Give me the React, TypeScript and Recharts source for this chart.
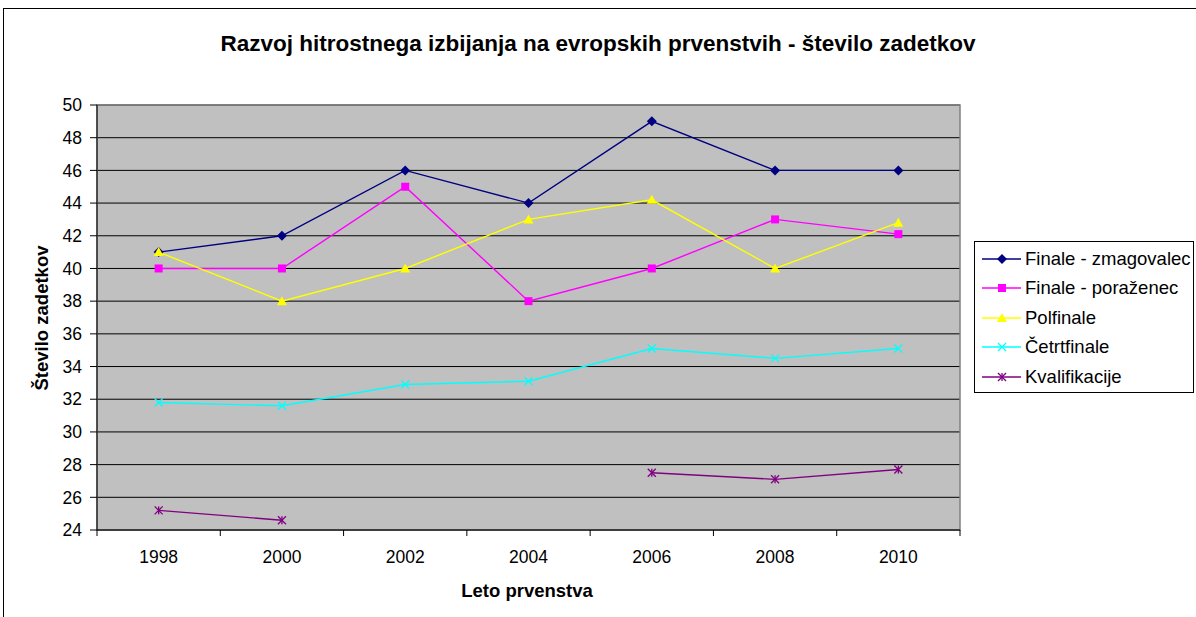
import React from 'react'
import { LineChart, Line, XAxis, YAxis, CartesianGrid, ReferenceArea } from 'recharts'

const years = [1998, 2000, 2002, 2004, 2006, 2008, 2010]
const zmagovalec = [41, 42, 46, 44, 49, 46, 46]
const porazenec = [40, 40, 45, 38, 40, 43, 42.1]
const polfinale = [41, 38, 40, 43, 44.2, 40, 42.8]
const cetrtfinale = [31.8, 31.6, 32.9, 33.1, 35.1, 34.5, 35.1]
const kvalifikacije = [25.2, 24.6, null, null, 27.5, 27.1, 27.7]

const yTicks = [24, 26, 28, 30, 32, 34, 36, 38, 40, 42, 44, 46, 48, 50]
// odd years = tick marks between categories, even years = labels
const xTicks = [1997, 1998, 1999, 2000, 2001, 2002, 2003, 2004, 2005, 2006, 2007, 2008, 2009, 2010, 2011]

const FONT = '"Liberation Sans", Arial, sans-serif'

type Shape = 'diamond' | 'square' | 'triangle' | 'x' | 'star'

const series: { key: string; name: string; color: string; shape: Shape; values: (number | null)[] }[] = [
  { key: 'zmag', name: 'Finale - zmagovalec', color: '#000080', shape: 'diamond', values: zmagovalec },
  { key: 'poraz', name: 'Finale - poraženec', color: '#FF00FF', shape: 'square', values: porazenec },
  { key: 'pol', name: 'Polfinale', color: '#FFFF00', shape: 'triangle', values: polfinale },
  { key: 'cetrt', name: 'Četrtfinale', color: '#00FFFF', shape: 'x', values: cetrtfinale },
  { key: 'kval', name: 'Kvalifikacije', color: '#800080', shape: 'star', values: kvalifikacije },
]

const data = years.map((year, i) => {
  const row: Record<string, number | null> = { year }
  series.forEach((s) => {
    row[s.key] = s.values[i]
  })
  return row
})

function Marker({ cx, cy, shape, color }: { cx: number; cy: number; shape: Shape; color: string }) {
  if (shape === 'diamond') {
    return <polygon points={`${cx},${cy - 5} ${cx + 5},${cy} ${cx},${cy + 5} ${cx - 5},${cy}`} fill={color} />
  }
  if (shape === 'square') {
    return <rect x={cx - 4} y={cy - 4} width={8} height={8} fill={color} />
  }
  if (shape === 'triangle') {
    return <polygon points={`${cx},${cy - 5} ${cx + 5},${cy + 4} ${cx - 5},${cy + 4}`} fill={color} />
  }
  if (shape === 'x') {
    return (
      <g stroke={color} strokeWidth={1.3}>
        <line x1={cx - 4} y1={cy - 4} x2={cx + 4} y2={cy + 4} />
        <line x1={cx - 4} y1={cy + 4} x2={cx + 4} y2={cy - 4} />
      </g>
    )
  }
  return (
    <g stroke={color} strokeWidth={1.3}>
      <line x1={cx - 4} y1={cy - 4} x2={cx + 4} y2={cy + 4} />
      <line x1={cx - 4} y1={cy + 4} x2={cx + 4} y2={cy - 4} />
      <line x1={cx} y1={cy - 4} x2={cx} y2={cy + 4} />
    </g>
  )
}

function XTick(props: any) {
  const { x, y, payload } = props
  const v = payload.value as number
  if (v % 2 === 1) {
    return <line x1={x} y1={y} x2={x} y2={y + 6} stroke="#000" strokeWidth={1} />
  }
  return (
    <text x={x} y={y + 33} textAnchor="middle" fontSize={17.5} fontFamily={FONT} fill="#000">
      {v}
    </text>
  )
}

export default function App() {
  return (
    <div
      style={{
        position: 'fixed',
        top: 0,
        left: 0,
        width: 1196,
        height: 617,
        overflow: 'hidden',
        background: '#fff',
        fontFamily: FONT,
      }}
    >
      <div
        style={{
          position: 'absolute',
          left: 3,
          top: 8,
          width: 1300,
          height: 700,
          border: '1px solid #000',
        }}
      />
      <div
        style={{
          position: 'absolute',
          top: 31,
          left: 0,
          width: 1196,
          textAlign: 'center',
          fontWeight: 'bold',
          fontSize: 22.5,
          lineHeight: '26px',
          whiteSpace: 'nowrap',
        }}
      >
        Razvoj hitrostnega izbijanja na evropskih prvenstvih - število zadetkov
      </div>
      <div
        style={{
          position: 'absolute',
          left: 42,
          top: 318,
          transform: 'translate(-50%, -50%) rotate(-90deg)',
          whiteSpace: 'nowrap',
          fontWeight: 'bold',
          fontSize: 18.5,
        }}
      >
        Število zadetkov
      </div>
      <div
        style={{
          position: 'absolute',
          left: 527,
          top: 591,
          transform: 'translate(-50%, -50%)',
          whiteSpace: 'nowrap',
          fontWeight: 'bold',
          fontSize: 18.5,
        }}
      >
        Leto prvenstva
      </div>

      <div style={{ position: 'absolute', left: 0, top: 0 }}>
        <LineChart width={1196} height={617} data={data} margin={{ top: 105, right: 236, bottom: 57, left: 37 }}>
          <CartesianGrid vertical={false} fill="#C0C0C0" fillOpacity={1} stroke="#000" strokeWidth={1} />
          <ReferenceArea x1={1997} x2={2011} y1={24} y2={50} fill="none" stroke="#808080" strokeWidth={1.5} />
          <XAxis
            dataKey="year"
            type="number"
            domain={[1997, 2011]}
            ticks={xTicks}
            interval={0}
            tickLine={false}
            tickSize={0}
            tickMargin={0}
            tick={<XTick />}
            axisLine={{ stroke: '#000', strokeWidth: 1 }}
            height={30}
          />
          <YAxis
            type="number"
            domain={[24, 50]}
            ticks={yTicks}
            interval={0}
            width={60}
            tickSize={7}
            tickMargin={8}
            tickLine={{ stroke: '#000' }}
            axisLine={{ stroke: '#000', strokeWidth: 1 }}
            tick={{ fill: '#000', fontSize: 17.5, fontFamily: FONT }}
          />
          {series.map((s) => (
            <Line
              key={s.key}
              dataKey={s.key}
              name={s.name}
              stroke={s.color}
              strokeWidth={1.4}
              isAnimationActive={false}
              connectNulls={false}
              dot={(p: any) =>
                p.cx == null || p.cy == null || p.value == null ? (
                  <g key={`${s.key}-${p.index}`} />
                ) : (
                  <Marker key={`${s.key}-${p.index}`} cx={p.cx} cy={p.cy} shape={s.shape} color={s.color} />
                )
              }
              activeDot={false}
            />
          ))}
        </LineChart>
      </div>

      <div
        style={{
          position: 'absolute',
          left: 974,
          top: 241,
          width: 220,
          height: 152,
          border: '1px solid #000',
          background: '#fff',
          paddingTop: 2,
          boxSizing: 'border-box',
        }}
      >
        {series.map((s) => (
          <div key={s.key} style={{ display: 'flex', alignItems: 'center', height: 29.5 }}>
            <svg width={50} height={30} style={{ flex: 'none' }}>
              <line x1={7} y1={15} x2={46} y2={15} stroke={s.color} strokeWidth={1.4} />
              <Marker cx={27} cy={15} shape={s.shape} color={s.color} />
            </svg>
            <span style={{ fontSize: 18.5, whiteSpace: 'nowrap' }}>{s.name}</span>
          </div>
        ))}
      </div>
    </div>
  )
}
